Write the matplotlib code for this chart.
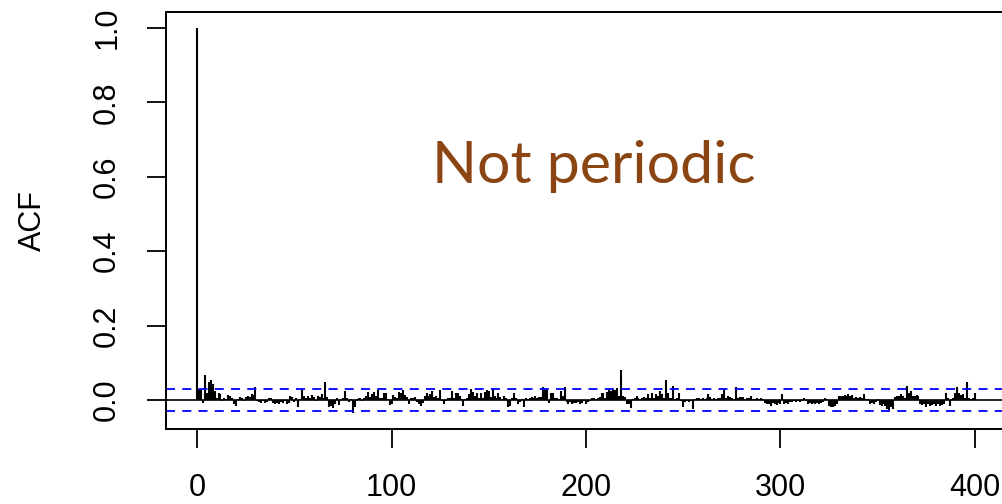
import numpy as np
import matplotlib
matplotlib.use('Agg')
import matplotlib.pyplot as plt

# ACF values, lags 0..400 (10 per row)
acf_values = [
    1.000, 0.030, 0.027, -0.008, 0.066, 0.019, 0.048, 0.053, 0.044, 0.024,
    0.006, 0.018, 0.015, -0.004, 0.005, 0.003, 0.013, 0.010, 0.004, -0.010,
    -0.015, 0.002, 0.008, 0.006, -0.003, 0.009, 0.011, 0.007, 0.015, 0.013,
    0.034, -0.004, -0.006, -0.009, -0.003, -0.007, -0.005, 0.004, 0.006, -0.008,
    -0.010, -0.007, -0.012, -0.006, -0.009, -0.004, -0.011, -0.007, 0.010, 0.008,
    -0.005, 0.004, -0.018, 0.003, 0.030, 0.012, 0.006, 0.010, 0.004, 0.014,
    0.008, -0.004, 0.012, 0.009, 0.015, 0.005, 0.049, 0.008, -0.020, -0.017,
    -0.022, -0.010, 0.004, -0.013, 0.002, 0.006, 0.024, 0.005, -0.006, 0.003,
    -0.036, -0.020, 0.003, 0.005, 0.004, -0.003, 0.006, 0.012, 0.022, 0.009,
    0.015, 0.021, 0.010, 0.028, 0.006, 0.004, 0.019, 0.020, 0.003, -0.014,
    -0.011, 0.014, 0.007, 0.004, 0.022, 0.018, 0.027, 0.013, 0.008, -0.012,
    0.006, 0.004, 0.007, -0.006, -0.012, -0.015, -0.008, 0.012, 0.018, 0.010,
    0.016, 0.025, 0.009, 0.011, 0.004, 0.028, -0.004, -0.012, -0.003, 0.005,
    0.006, 0.025, 0.004, 0.020, 0.018, 0.010, 0.003, -0.015, 0.002, 0.006,
    0.015, 0.030, 0.022, 0.012, 0.018, 0.005, 0.020, 0.004, 0.022, 0.026,
    0.024, 0.007, 0.033, 0.012, 0.004, 0.020, 0.008, 0.003, 0.010, 0.006,
    -0.020, -0.016, 0.004, 0.018, 0.006, -0.010, -0.006, 0.003, -0.020, 0.004,
    0.002, 0.005, 0.008, 0.006, 0.010, 0.004, 0.007, 0.009, 0.035, 0.030,
    0.028, -0.008, 0.018, 0.020, 0.004, 0.006, 0.003, 0.025, 0.012, 0.035,
    -0.005, -0.010, -0.006, -0.012, -0.007, -0.009, -0.005, -0.011, -0.008, -0.004,
    -0.010, -0.006, -0.003, 0.004, 0.006, 0.003, 0.005, 0.008, 0.020, 0.018,
    0.006, 0.022, 0.030, 0.025, 0.030, 0.028, 0.031, 0.010, 0.080, 0.012,
    0.008, -0.012, -0.010, -0.022, 0.003, 0.004, 0.010, 0.006, 0.002, 0.005,
    0.008, 0.004, 0.015, 0.006, 0.020, 0.005, 0.015, 0.010, 0.025, 0.015,
    0.006, 0.054, 0.020, 0.004, 0.006, 0.037, 0.003, 0.005, 0.020, -0.004,
    -0.020, -0.006, -0.004, -0.005, -0.003, -0.025, 0.002, 0.004, 0.006, 0.003,
    0.005, 0.003, 0.004, 0.015, 0.008, 0.003, 0.004, 0.002, 0.005, 0.006,
    0.015, 0.030, 0.005, 0.010, 0.009, 0.004, 0.003, 0.035, 0.006, 0.008,
    0.007, 0.009, 0.003, 0.005, 0.004, 0.010, 0.003, 0.002, 0.004, 0.003,
    0.004, 0.002, -0.008, -0.012, -0.010, -0.015, -0.008, -0.011, -0.013, -0.009,
    -0.012, 0.015, -0.010, -0.008, -0.012, -0.005, -0.006, -0.003, -0.005, -0.004,
    -0.006, -0.003, 0.005, -0.004, -0.010, -0.008, -0.012, -0.009, -0.011, -0.007,
    -0.010, -0.008, -0.006, 0.005, 0.003, -0.015, -0.018, -0.020, -0.016, -0.012,
    0.010, 0.012, 0.011, 0.013, 0.010, 0.015, 0.012, 0.014, 0.006, 0.008,
    0.005, 0.009, 0.004, 0.015, 0.003, 0.002, -0.010, -0.008, -0.011, -0.006,
    0.003, -0.014, -0.016, -0.012, -0.015, -0.024, -0.026, -0.020, -0.025, 0.008,
    0.012, 0.010, 0.015, 0.011, 0.004, 0.038, 0.020, 0.025, 0.012, 0.010,
    0.013, 0.011, -0.010, -0.014, -0.012, -0.018, -0.011, -0.016, -0.013, -0.010,
    -0.015, -0.012, -0.017, -0.014, -0.010, 0.020, 0.004, -0.015, 0.003, 0.006,
    0.020, 0.035, 0.018, 0.014, 0.016, 0.006, 0.048, 0.004, 0.003, 0.005,
    0.020,
]
lags = np.arange(len(acf_values))
conf_limit = 0.030          # blue dashed bounds
x_ticks = [0, 100, 200, 300, 400]
y_ticks = [0.0, 0.2, 0.4, 0.6, 0.8, 1.0]

plt.rcParams['font.family'] = ['Liberation Sans', 'DejaVu Sans']

fig = plt.figure(figsize=(10.02, 5.04), dpi=100)
ax = fig.add_axes([166 / 1002, 75 / 504, 840 / 1002, 417 / 504])

ax.vlines(lags, 0, acf_values, color='black', lw=1.5)
ax.axhline(0, color='black', lw=1.2)
ax.axhline(conf_limit, color='blue', lw=1.3, linestyle=(0, (5, 4)))
ax.axhline(-conf_limit, color='blue', lw=1.3, linestyle=(0, (5, 4)))

ax.set_xlim(-16, 416)
ax.set_ylim(-0.078, 1.043)

ax.set_xticks(x_ticks)
ax.set_xticklabels([str(t) for t in x_ticks])
ax.set_yticks(y_ticks)
ax.set_yticklabels([f'{t:.1f}' for t in y_ticks])
ax.tick_params(axis='both', direction='out', length=13.5, width=1.3,
               labelsize=22, pad=18)
ax.tick_params(axis='y', labelrotation=90)
for lbl in ax.get_yticklabels():
    lbl.set_va('center')

for s in ax.spines.values():
    s.set_linewidth(1.4)

fig.text(33 / 1002, 1 - 221 / 504, 'ACF', rotation=90, ha='center',
         va='center', fontsize=22)
fig.text(594 / 1002, 1 - 183 / 504, 'Not periodic', ha='center',
         va='baseline', fontsize=42.5, color='#8B4513', family=['Lato', 'DejaVu Sans'])

fig.savefig('out.png', dpi=100)
